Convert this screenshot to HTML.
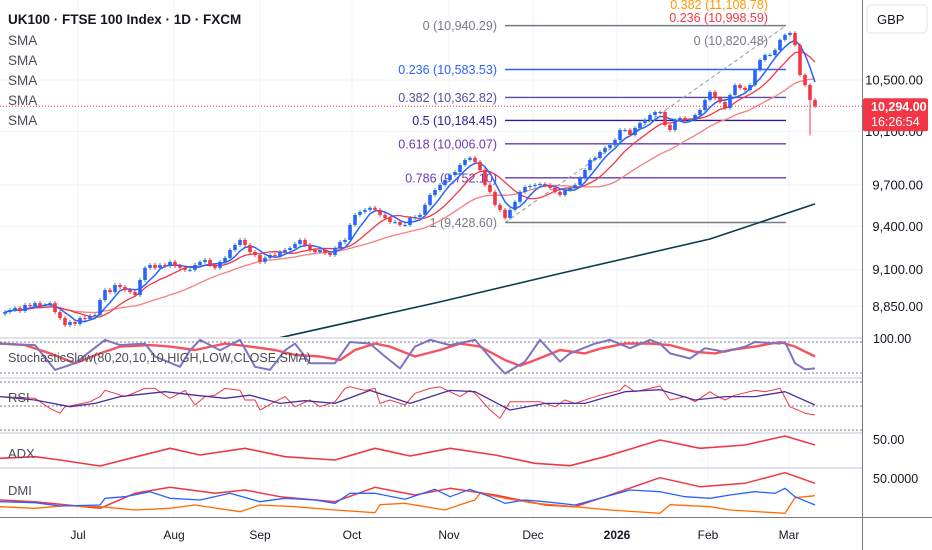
<!DOCTYPE html>
<html><head><meta charset="utf-8"><style>
html,body{margin:0;padding:0;background:#fff;}
body{width:932px;height:550px;overflow:hidden;font-family:"Liberation Sans",sans-serif;}
svg{display:block}
</style></head><body>
<svg id="chart" width="932" height="550" viewBox="0 0 932 550" xmlns="http://www.w3.org/2000/svg" font-family="Liberation Sans, sans-serif"></svg>
<script>
// ---- data ----
const closes = [8812,8826,8839,8819,8859,8852,8872,8852,8859,8872,8812,8772,8726,8746,8733,8772,8766,8786,8792,8892,8960,8946,8994,8980,8960,8946,8926,9028,9111,9131,9111,9131,9124,9152,9124,9111,9097,9097,9131,9152,9166,9131,9111,9152,9180,9235,9270,9305,9270,9221,9200,9152,9180,9200,9193,9221,9235,9249,9277,9305,9270,9235,9221,9235,9214,9200,9249,9291,9305,9411,9483,9505,9519,9534,9519,9483,9461,9432,9432,9411,9411,9461,9468,9483,9555,9627,9663,9700,9736,9773,9795,9847,9885,9900,9870,9810,9700,9649,9555,9519,9461,9519,9577,9649,9685,9692,9700,9707,9700,9678,9649,9627,9663,9678,9700,9751,9810,9885,9900,9945,9975,9997,10035,10111,10111,10073,10126,10165,10188,10226,10249,10249,10149,10111,10188,10203,10188,10188,10226,10265,10343,10405,10358,10327,10280,10382,10460,10437,10421,10460,10579,10660,10700,10700,10741,10823,10864,10880,10781,10540,10460,10343,10294];
const firstOpen = 8800;
const wick = 14;
const lowOverride = {161: 10070};
const sma200Days = [56, 88, 112, 142, 163];
const sma200Vals = [8643, 8880, 9072, 9312, 9562];

const fibLevels = ["0","0.236","0.382","0.5","0.618","0.786","1"];
const fibPrices = [10940.29,10583.53,10362.82,10184.45,10006.07,9752.10,9428.60];
const fibColors = ["#787b86","#2962ff","#5b4a9e","#311b92","#673ab7","#673ab7","#787b86"];

const priceTicks = [10500,10100,9700,9400,9100,8850];
const monthLabels = ["Jul","Aug","Sep","Oct","Nov","Dec","2026","Feb","Mar"];
const monthDays = [15.6,34.8,52,70.4,89.8,106.6,123.4,141.6,157.8];

const stochKDays = [0,7,11,15,21,24,29,31,36,38,40,44,48,51,54,57,59,62,67,70,74,77,80,83,86,90,95,99,101,105,108,112,114,119,122,126,130,132,134,138,141,145,149,151,156,157,159,161,163];
const stochK = [77,74,26,39,84,74,77,52,32,64,84,64,84,32,26,64,77,39,39,80,77,52,29,71,84,74,84,39,19,42,84,42,58,77,84,68,84,77,58,48,68,61,71,80,77,80,39,27,29];
const stochDDays = [0,5,10,15,20,24,30,34,39,45,50,55,59,64,68,71,75,78,83,88,92,96,101,104,107,112,117,120,125,130,134,139,143,146,151,156,159,163];
const stochD = [77,74,58,39,58,71,74,71,64.5,77,71,64.5,55,52,45,64.5,77,71,52,64.5,77,71,45,34,45,64.5,58,67,77,77,74,61,58,64.5,71,80,71,52];

const rsiDays = [0,7,10,12,13,15,18,20,21,23,25,29,31,33,34,37,39,41,43,45,48,49,51,52,55,57,59,62,64,67,69,70,73,75,76,78,81,83,86,88,92,94,95,98,100,102,106,108,111,113,115,118,120,124,125,127,130,132,134,137,139,142,143,145,147,151,153,156,158,161,163];
const rsi = [57.8,56.4,48,44,49.4,50.8,53.6,57.8,63,60.6,57.8,64.7,64.7,59,56.4,63,50.8,57.8,59,64.7,63,55,55,46.7,53.6,57.8,49.4,55,49.4,53.6,64.7,66,63,64.7,52.2,55,50.8,60.6,64.7,66,57.8,63,60.6,46.7,39.7,53.6,53.6,53.6,49.4,55,52.2,56.4,59,63,67.5,61.9,64.7,66.7,55,57.8,53.6,61.9,59,55,59,63,61.9,64.7,49.4,44,42.5];
const rsiMaDays = [0,7,14,19,24,33,39,45,50,56,61,67,74,82,90,95,102,109,117,125,132,139,145,151,157,163];
const rsiMa = [57.8,55,49.4,52.2,57.8,61.9,59,56.4,59,52.2,54.4,52.2,63,52.2,63,61.9,46.7,52.2,52.2,61.9,63.6,55,57.8,57.8,61.9,50.8];

const adxDays = [0,7,12,20,26,34,40,49,57,67,75,82,90,99,107,114,121,132,140,149,157,163];
const adx = [31.7,33.3,30,24,31.7,41.7,35,41.7,33.3,30,41.7,34,41.7,35,26.7,24.3,33.3,50,41.7,45,54,45];

const dmiAdxDays = [0,7,20,27,34,43,49,56,67,75,83,90,99,109,115,121,132,140,149,157,163];
const dmiAdx = [29,27.3,20.7,35.7,41.7,35.7,39,32.3,27.3,41.7,34,40.7,34,24,22.3,32.3,51.3,42.3,45.7,56.3,45.7];
const plusDiDays = [0,7,12,20,21,25,30,34,40,46,52,57,63,67,70,75,81,87,90,94,98,101,105,109,115,120,126,132,137,142,146,151,155,157,159,163];
const plusDi = [27.3,26.3,23,24,30.7,32.3,37.3,30.7,29,35.7,27.3,30.7,29,25.7,35.7,35.7,29.7,39.7,32.3,39.7,32.3,25.7,29,27.3,24,30.7,39,37.3,32.3,30.7,34,37.3,35.7,40.7,32.3,24];
const minusDiDays = [0,7,13,20,27,34,39,48,52,59,67,75,76,81,89,92,95,96,101,107,115,122,132,134,142,146,157,159,163];
const minusDi = [22.3,20.7,23.3,22.3,19,20.7,24,17.3,24,22.3,19,16.3,24.3,25.7,19,24.3,29,35.7,30.7,25.7,22.3,19,15.7,24.3,22.3,19,15.7,31.3,33.3];

// ---- scales ----
const X = d => 5*d;
const Y = p => 80 - 1324*Math.log(p/10500);
const YS = v => 342 + (80 - v)*31/60;
const YR = v => 406 - (v-50)*1.2;
const YA = v => 440 - (v-50);
const YD = v => 479 - (v-50);

const svg = document.getElementById('chart');
const NS = 'http://www.w3.org/2000/svg';
function mk(tag, attrs, parent){const e=document.createElementNS(NS,tag);for(const k in attrs)e.setAttribute(k,attrs[k]);(parent||svg).appendChild(e);return e;}
function txt(s, attrs){const e=mk('text',attrs);e.textContent=s;return e;}
function poly(days, vals, yf){return days.map((d,i)=>X(d).toFixed(1)+','+yf(vals[i]).toFixed(1)).join(' ');}

// grid
const grid = mk('g',{});


monthDays.forEach(d=>mk('line',{x1:X(d),x2:X(d),y1:0,y2:517,stroke:'#f0f3fa','stroke-width':1},grid));
priceTicks.forEach(p=>mk('line',{x1:0,x2:862,y1:Y(p),y2:Y(p),stroke:'#f0f3fa','stroke-width':1},grid));

// fib
const fib = mk('g',{});


fibPrices.forEach((p,i)=>{
  mk('line',{x1:505,x2:786,y1:Y(p),y2:Y(p),stroke:fibColors[i],'stroke-width':1.4},fib);
  const t=txt(fibLevels[i]+' ('+p.toLocaleString('en-US',{minimumFractionDigits:2,maximumFractionDigits:2})+')',{x:497,y:Y(p)+4.5,'text-anchor':'end','font-size':12.5,fill:fibColors[i]});
  
  
});
mk('line',{x1:505,y1:Y(fibPrices[6]),x2:786,y2:Y(fibPrices[0]),stroke:'#9598a1','stroke-width':1,'stroke-dasharray':'4,3'},fib);
txt('0.382 (11,108.78)',{x:768,y:9,'text-anchor':'end','font-size':12.5,fill:'#ff9800'});
txt('0.236 (10,998.59)',{x:768,y:22,'text-anchor':'end','font-size':12.5,fill:'#f23645'});
txt('0 (10,820.48)',{x:768,y:45,'text-anchor':'end','font-size':12.5,fill:'#787b86'});

// SMAs
function sma(n){const out=[];for(let i=0;i<closes.length;i++){const s=Math.max(0,i-n+1);let t=0;for(let j=s;j<=i;j++)t+=closes[j];out.push(t/(i-s+1));}return out;}
const days = closes.map((c,i)=>i+1);
[[25,'#f77c80',1.3,'sma-50'],[10,'#f23645',1.3,'sma-20'],[5,'#2962ff',1.5,'sma-10']].forEach(([n,c,w,name])=>{
  const v=sma(n);
  const l=mk('polyline',{points:poly(days,v,Y),fill:'none',stroke:c,'stroke-width':w});
  
  
});
const s200=mk('polyline',{points:poly(sma200Days,sma200Vals,Y),fill:'none',stroke:'#0b3b50','stroke-width':1.6,'stroke-linejoin':'round'});



// candles
const cg=mk('g',{});


closes.forEach((c,i)=>{
  const o = i===0?firstOpen:closes[i-1];
  const up = c>=o;
  const hi = Math.max(o,c)+wick, lo = (lowOverride[i]!==undefined)?lowOverride[i]:Math.min(o,c)-wick;
  const x=X(i+1);
  mk('line',{x1:x,x2:x,y1:Y(hi),y2:Y(lo),stroke:up?'#26a69a':'#f23645','stroke-width':1},cg);
  const yt=Y(Math.max(o,c)), yb=Y(Math.min(o,c));
  const r=mk('rect',{x:x-1.8,y:yt,width:3.6,height:Math.max(1,yb-yt),fill:up?'#2962ff':'#f23645'},cg);
  
  
});

// current price line
const last=closes[closes.length-1];
mk('line',{x1:0,x2:862,y1:Y(last),y2:Y(last),stroke:'#f23645','stroke-width':1,'stroke-dasharray':'1,2'});

// legend
txt('UK100 · FTSE 100 Index · 1D · FXCM',{x:8,y:24,'font-size':13.5,fill:'#131722','font-weight':'bold'});
['SMA','SMA','SMA','SMA','SMA'].forEach((s,i)=>{const t=txt(s,{x:8,y:45+i*20,'font-size':13.5,fill:'#4a4d57'});});

// panes
[338,378,433,468].forEach(y=>mk('line',{x1:0,x2:862,y1:y,y2:y,stroke:'#e0e3eb','stroke-width':2}));
[342,373,382,406,430].forEach(y=>mk('line',{x1:0,x2:862,y1:y,y2:y,stroke:'#787b86','stroke-width':1,'stroke-dasharray':'2,2'}));
function ser(d,v,yf,c,w,name){const l=mk('polyline',{points:poly(d,v,yf),fill:'none',stroke:c,'stroke-width':w,'stroke-linejoin':'round'});}
ser(stochDDays,stochD,YS,'#f7525f',2.4,'stoch-d');
ser(stochKDays,stochK,YS,'#7e74c0',2,'stoch-k');
ser(rsiDays,rsi,YR,'#f23645',1,'rsi-line');
ser(rsiMaDays,rsiMa,YR,'#4a2e9e',1.3,'rsi-ma');
ser(adxDays,adx,YA,'#f23645',1.6,'adx-line');
ser(dmiAdxDays,dmiAdx,YD,'#f23645',1.5,'dmi-adx');
ser(minusDiDays,minusDi,YD,'#ff6d00',1.3,'minus-di');
ser(plusDiDays,plusDi,YD,'#2962ff',1.3,'plus-di');
txt('StochasticSlow(80,20,10,10,HIGH,LOW,CLOSE,SMA)',{x:8,y:362,'font-size':13,fill:'#4a4d57',textLength:303,lengthAdjust:'spacingAndGlyphs'});
txt('RSI',{x:8,y:402,'font-size':13,fill:'#4a4d57'});
txt('ADX',{x:8,y:458,'font-size':13,fill:'#4a4d57'});
txt('DMI',{x:8,y:495,'font-size':13,fill:'#4a4d57'});

// axes
mk('line',{x1:0,x2:932,y1:517.5,y2:517.5,stroke:'#787b86','stroke-width':1});
mk('line',{x1:862.5,x2:862.5,y1:0,y2:550,stroke:'#787b86','stroke-width':1});
monthLabels.forEach((m,i)=>{const t=txt(m,{x:X(monthDays[i]),y:539,'text-anchor':'middle','font-size':12,fill:'#131722','font-weight':m==='2026'?'bold':'normal'});});
priceTicks.forEach(p=>{const t=txt(p.toLocaleString('en-US',{minimumFractionDigits:2}),{x:923,y:Y(p)+4.5,'text-anchor':'end','font-size':13,fill:'#131722'});});
txt('100.00',{x:873,y:343,'font-size':12.5,fill:'#131722'});
txt('50.00',{x:873,y:444,'font-size':12.5,fill:'#131722'});
txt('50.0000',{x:873,y:483,'font-size':12.5,fill:'#131722'});
// GBP box
const gb=mk('rect',{x:867,y:5,width:60,height:28,rx:4,fill:'#fff',stroke:'#e0e3eb'});


txt('GBP',{x:877,y:24,'font-size':13,fill:'#131722'});
// price label
const pl=mk('rect',{x:863,y:Y(last)-8,width:65,height:33,rx:2,fill:'#f23645'});


txt(last.toLocaleString('en-US',{minimumFractionDigits:2}),{x:871,y:Y(last)+5,'font-size':12.5,fill:'#fff','font-weight':'bold'});
txt('16:26:54',{x:871,y:Y(last)+20,'font-size':12.5,fill:'#fff'});
</script>
</body></html>
